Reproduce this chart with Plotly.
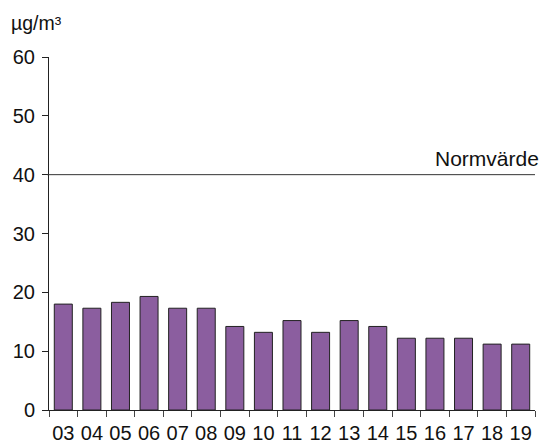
import plotly.graph_objects as go

years = ["03", "04", "05", "06", "07", "08", "09", "10", "11", "12", "13", "14", "15", "16", "17", "18", "19"]
values = [18, 17.3, 18.3, 19.3, 17.3, 17.3, 14.2, 13.2, 15.2, 13.2, 15.2, 14.2, 12.2, 12.2, 12.2, 11.2, 11.2]
norm_value = 40
norm_label = "Normvärde"
unit_label = "µg/m³"
y_ticks = [0, 10, 20, 30, 40, 50, 60]

font = "Liberation Sans, Arial, sans-serif"

# page has an 8px body margin, so the figure is sized to fit inside the window
W, H = 539, 440
ML, MR, MT, MB = 41, 12, 49, 38
plot_h = H - MT - MB

fig = go.Figure()
fig.add_trace(go.Bar(
    x=years, y=values,
    marker=dict(color="#8B5E9F", line=dict(color="#222222", width=1)),
))

fig.add_shape(type="line", xref="paper", yref="y", x0=-0.004, x1=1, y0=norm_value, y1=norm_value,
              line=dict(color="#333333", width=1))
fig.add_annotation(xref="paper", yref="y", x=1.012, y=norm_value, text=norm_label, showarrow=False,
                   xanchor="right", yanchor="bottom", yshift=3,
                   font=dict(family=font, size=21, color="#111111"))
fig.add_annotation(xref="paper", yref="paper", x=-0.082, y=1 + (MT - 15) / plot_h, text=unit_label,
                   showarrow=False, xanchor="left", yanchor="middle",
                   font=dict(family=font, size=19.5, color="#111111"))

fig.update_layout(
    width=W, height=H,
    margin=dict(l=ML, r=MR, t=MT, b=MB, autoexpand=False),
    plot_bgcolor="white", paper_bgcolor="white",
    bargap=0.37,
    showlegend=False,
    font=dict(family=font, size=20, color="#111111"),
)
fig.update_xaxes(
    type="category", tickson="boundaries", ticks="outside", ticklen=6, tickcolor="#444444",
    showline=True, linecolor="#222222", linewidth=1, showgrid=False, tickangle=0, automargin=False,
    ticklabelstandoff=5,
    tickfont=dict(family=font, size=20, color="#111111"),
)
fig.update_yaxes(
    range=[0, 60], tickvals=y_ticks, ticks="outside", ticklen=6, tickcolor="#222222",
    showline=True, linecolor="#222222", linewidth=1, showgrid=False, zeroline=False, automargin=False,
    ticklabelstandoff=3,
    tickfont=dict(family=font, size=20, color="#111111"),
)

fig.write_html("out.html")
